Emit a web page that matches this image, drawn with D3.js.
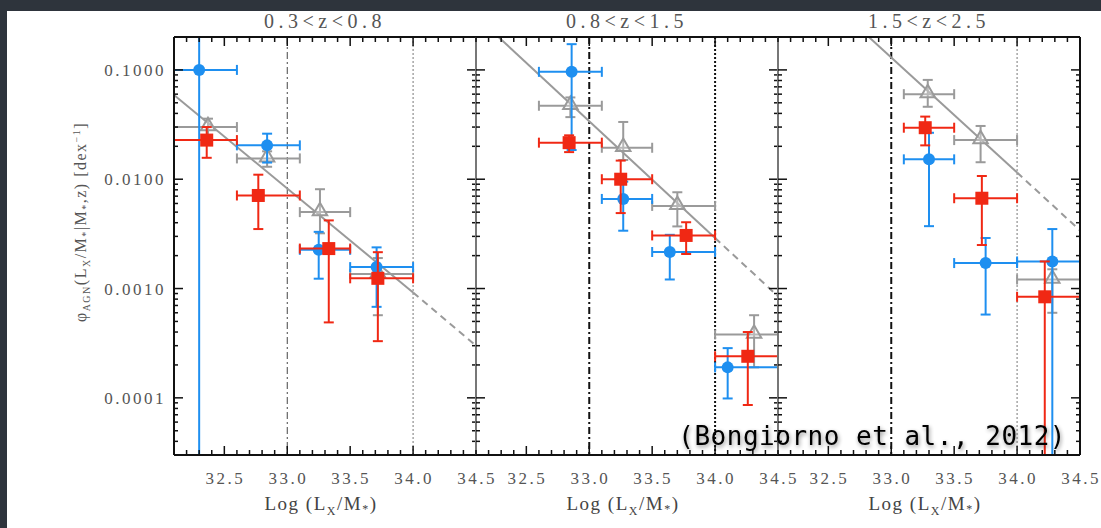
<!DOCTYPE html>
<html>
<head>
<meta charset="utf-8">
<script src="https://cdn.jsdelivr.net/npm/d3@7"></script>
<style>
  body { margin: 0; background: #2e343c; }
  svg { display: block; }
</style>
</head>
<body>
<script>
// redshift bins, one panel each
const panelTitles = ['0.3<z<0.8', '0.8<z<1.5', '1.5<z<2.5'];
const xTicks = [32.5, 33.0, 33.5, 34.0, 34.5];
const yTicks = [0.0001, 0.001, 0.01, 0.1];
const refLines = [33.0, 34.0];

// [panel, x, xlo, xhi, y, ylo, yhi]
const blueCircles = [
  [0, 32.30, 32.0, 32.6, 0.100, 3e-5, 0.5],
  [0, 32.84, 32.6, 33.1, 0.0204, 0.0142, 0.0261],
  [0, 33.25, 33.1, 33.5, 0.00226, 0.00123, 0.0033],
  [0, 33.71, 33.5, 34.0, 0.00157, 0.00068, 0.00238],
  [1, 32.86, 32.6, 33.1, 0.096, 0.0185, 0.172],
  [1, 33.27, 33.1, 33.5, 0.0066, 0.00338, 0.0095],
  [1, 33.64, 33.5, 34.0, 0.00216, 0.00121, 0.0031],
  [1, 34.10, 34.0, 34.5, 0.00019, 0.0000987, 0.000285],
  [2, 33.30, 33.1, 33.5, 0.0152, 0.00372, 0.0266],
  [2, 33.75, 33.5, 34.0, 0.00171, 0.000578, 0.0029],
  [2, 34.28, 34.0, 34.5, 0.00177, 1e-5, 0.0035]
];

const redSquares = [
  [0, 32.36, 32.0, 32.6, 0.0228, 0.0157, 0.030],
  [0, 32.77, 32.6, 33.1, 0.0071, 0.0035, 0.011],
  [0, 33.33, 33.1, 33.5, 0.00232, 0.00049, 0.0042],
  [0, 33.72, 33.5, 34.0, 0.00124, 0.00033, 0.00215],
  [1, 32.84, 32.6, 33.1, 0.0216, 0.0177, 0.0252],
  [1, 33.25, 33.1, 33.5, 0.0100, 0.0049, 0.0148],
  [1, 33.77, 33.5, 34.0, 0.00306, 0.00207, 0.00404],
  [1, 34.26, 34.0, 34.5, 0.00024, 0.000086, 0.0004],
  [2, 33.27, 33.1, 33.5, 0.0296, 0.0204, 0.0374],
  [2, 33.72, 33.5, 34.0, 0.0067, 0.0025, 0.0107],
  [2, 34.22, 34.0, 34.5, 0.00084, 3e-5, 0.00177]
];

const grayTriangles = [
  [0, 32.37, 32.0, 32.6, 0.030, 0.025, 0.0358],
  [0, 32.84, 32.6, 33.1, 0.0155, 0.013, 0.018],
  [0, 33.26, 33.1, 33.5, 0.0050, 0.0032, 0.0081],
  [0, 33.72, 33.5, 34.0, 0.00136, 0.00057, 0.0019],
  [1, 32.85, 32.6, 33.1, 0.047, 0.037, 0.056],
  [1, 33.27, 33.1, 33.5, 0.0194, 0.015, 0.0334],
  [1, 33.70, 33.5, 34.0, 0.0057, 0.0037, 0.0076],
  [1, 34.31, 34.0, 34.5, 0.00038, 0.00019, 0.00057],
  [2, 33.29, 33.1, 33.5, 0.060, 0.046, 0.081],
  [2, 33.71, 33.5, 34.0, 0.0228, 0.0143, 0.0307],
  [2, 34.28, 34.0, 34.5, 0.00121, 0.0006, 0.0015]
];

// fit: solid up to 34.0, dashed beyond
const fitLines = [
  [[32.1, 0.059], [34.0, 0.00092], [34.5, 0.0003]],
  [[32.1, 0.31], [34.0, 0.0029], [34.5, 0.00085]],
  [[32.1, 1.15], [34.0, 0.0115], [34.5, 0.0034]]
];

const W = 1101, H = 528;
const left0 = 174, plotTop = 37, plotBottom = 455, pw = 302;
const blue = '#1e8ff0', red = '#f02814', gray = '#9a9a9a';
const serif = '"Liberation Serif", "Times New Roman", serif';

const svg = d3.select('body').append('svg')
  .attr('width', W).attr('height', H);

// white slide area
svg.append('rect').attr('x', 7).attr('y', 11)
  .attr('width', W - 7).attr('height', H - 11).attr('fill', '#fff');

const defs = svg.append('defs');
const shadow = defs.append('filter').attr('id', 'glow')
  .attr('x', '-10%').attr('y', '-30%').attr('width', '120%').attr('height', '160%');
shadow.append('feGaussianBlur').attr('in', 'SourceAlpha').attr('stdDeviation', 2).attr('result', 'b');
shadow.append('feOffset').attr('in', 'b').attr('dx', 1).attr('dy', 2).attr('result', 'o');
shadow.append('feComponentTransfer').attr('in', 'o').attr('result', 's')
  .append('feFuncA').attr('type', 'linear').attr('slope', 0.45);
const merge = shadow.append('feMerge');
merge.append('feMergeNode').attr('in', 's');
merge.append('feMergeNode').attr('in', 'SourceGraphic');

const y = d3.scaleLog().domain([3e-5, 0.2]).range([plotBottom, plotTop]);
const minorY = [];
[1e-5, 1e-4, 1e-3, 1e-2, 1e-1].forEach(d => {
  for (let k = 1; k <= 9; k++) {
    const v = d * k;
    if (v >= 3e-5 && v <= 0.2) minorY.push(v);
  }
});
const minorX = d3.range(321, 346).map(d => d / 10);

panelTitles.forEach((title, i) => {
  const x0 = left0 + i * pw;
  const x = d3.scaleLinear().domain([32.1, 34.5]).range([x0, x0 + pw]);
  const g = svg.append('g');

  defs.append('clipPath').attr('id', 'clip' + i)
    .append('rect').attr('x', x0).attr('y', plotTop - 1)
    .attr('width', pw).attr('height', plotBottom - plotTop + 2);

  // reference lines at 33.0 (dash-dot) and 34.0 (dotted)
  const heavy = i > 0;
  g.append('line')
    .attr('x1', x(refLines[0])).attr('x2', x(refLines[0]))
    .attr('y1', plotTop).attr('y2', plotBottom)
    .attr('stroke', heavy ? '#111' : '#444')
    .attr('stroke-width', heavy ? 2 : 1)
    .attr('stroke-dasharray', '7,3,2,3');
  g.append('line')
    .attr('x1', x(refLines[1])).attr('x2', x(refLines[1]))
    .attr('y1', plotTop).attr('y2', plotBottom)
    .attr('stroke', i === 1 ? '#111' : '#777')
    .attr('stroke-width', i === 1 ? 2 : 1)
    .attr('stroke-dasharray', '2,2');

  const plot = g.append('g').attr('clip-path', 'url(#clip' + i + ')');

  const fit = fitLines[i];
  const line = d3.line().x(d => x(d[0])).y(d => y(d[1]));
  plot.append('path').attr('d', line(fit.slice(0, 2)))
    .attr('fill', 'none').attr('stroke', gray).attr('stroke-width', 2);
  plot.append('path').attr('d', line(fit.slice(1)))
    .attr('fill', 'none').attr('stroke', gray).attr('stroke-width', 2)
    .attr('stroke-dasharray', '7,5');

  function errorBars(data, color) {
    const rows = data.filter(d => d[0] === i);
    const eg = plot.append('g').attr('stroke', color).attr('stroke-width', 2).attr('fill', 'none');
    rows.forEach(d => {
      const cx = x(d[1]), cy = y(d[4]);
      eg.append('line').attr('x1', x(d[2])).attr('x2', x(d[3])).attr('y1', cy).attr('y2', cy);
      eg.append('line').attr('x1', cx).attr('x2', cx).attr('y1', y(d[5])).attr('y2', y(d[6]));
      [d[2], d[3]].forEach(v => eg.append('line')
        .attr('x1', x(v)).attr('x2', x(v)).attr('y1', cy - 5).attr('y2', cy + 5));
      [d[5], d[6]].forEach(v => eg.append('line')
        .attr('x1', cx - 5).attr('x2', cx + 5).attr('y1', y(v)).attr('y2', y(v)));
    });
    return rows;
  }

  const gRows = errorBars(grayTriangles, gray);
  plot.append('g').selectAll('path').data(gRows).join('path')
    .attr('d', d3.symbol(d3.symbolTriangle, 90))
    .attr('transform', d => `translate(${x(d[1])},${y(d[4]) - 1})`)
    .attr('fill', '#fff').attr('fill-opacity', 0.3)
    .attr('stroke', gray).attr('stroke-width', 2);

  const bRows = errorBars(blueCircles, blue);
  plot.append('g').selectAll('circle').data(bRows).join('circle')
    .attr('cx', d => x(d[1])).attr('cy', d => y(d[4])).attr('r', 6)
    .attr('fill', blue);

  const rRows = errorBars(redSquares, red);
  plot.append('g').selectAll('rect').data(rRows).join('rect')
    .attr('x', d => x(d[1]) - 6.5).attr('y', d => y(d[4]) - 6.5)
    .attr('width', 13).attr('height', 13).attr('fill', red);

  // frame: top/bottom black, inner boundaries grey
  g.append('line').attr('x1', x0).attr('x2', x0 + pw).attr('y1', plotTop).attr('y2', plotTop)
    .attr('stroke', '#111').attr('stroke-width', 2);
  g.append('line').attr('x1', x0).attr('x2', x0 + pw).attr('y1', plotBottom).attr('y2', plotBottom)
    .attr('stroke', '#111').attr('stroke-width', 2);
  g.append('line').attr('x1', x0).attr('x2', x0).attr('y1', plotTop).attr('y2', plotBottom)
    .attr('stroke', i === 0 ? '#111' : '#777').attr('stroke-width', 2);
  if (i === 2) {
    g.append('line').attr('x1', x0 + pw).attr('x2', x0 + pw).attr('y1', plotTop).attr('y2', plotBottom)
      .attr('stroke', '#111').attr('stroke-width', 2);
  }

  // x ticks top and bottom
  const tk = g.append('g').attr('stroke', '#111').attr('stroke-width', 1.5);
  minorX.forEach(v => {
    const major = Math.abs(v * 2 - Math.round(v * 2)) < 1e-6;
    const len = major ? 9 : 5;
    tk.append('line').attr('x1', x(v)).attr('x2', x(v)).attr('y1', plotBottom).attr('y2', plotBottom - len);
    tk.append('line').attr('x1', x(v)).attr('x2', x(v)).attr('y1', plotTop).attr('y2', plotTop + len);
  });
  // y ticks on both sides of the panel
  minorY.forEach(v => {
    const major = yTicks.some(t => Math.abs(t - v) / t < 1e-6);
    const len = major ? 9 : 4;
    tk.append('line').attr('x1', x0).attr('x2', x0 + len).attr('y1', y(v)).attr('y2', y(v));
    tk.append('line').attr('x1', x0 + pw).attr('x2', x0 + pw - len).attr('y1', y(v)).attr('y2', y(v));
  });

  g.append('g').selectAll('text').data(xTicks).join('text')
    .attr('x', d => x(d) + 1).attr('y', 484)
    .attr('text-anchor', 'middle')
    .attr('font-family', serif).attr('font-size', 17)
    .attr('letter-spacing', 2.5).attr('fill', '#555')
    .text(d => d.toFixed(1));

  g.append('text').attr('x', x0 + pw / 2).attr('y', 28)
    .attr('text-anchor', 'middle')
    .attr('font-family', serif).attr('font-size', 20)
    .attr('letter-spacing', 4.5).attr('fill', '#555')
    .text(title);

  const xl = g.append('text').attr('x', x0 + pw / 2 - 4).attr('y', 510)
    .attr('text-anchor', 'middle')
    .attr('font-family', serif).attr('font-size', 19)
    .attr('letter-spacing', 1.5).attr('fill', '#444');
  xl.append('tspan').text('Log (L');
  xl.append('tspan').attr('font-size', 12).attr('dy', 5).text('X');
  xl.append('tspan').attr('dy', -5).text('/M');
  xl.append('tspan').attr('font-size', 12).attr('dy', 3).text('*');
  xl.append('tspan').attr('dy', -3).text(')');
});

// y tick labels
svg.append('g').selectAll('text').data(yTicks).join('text')
  .attr('x', 166).attr('y', d => y(d) + 6)
  .attr('text-anchor', 'end')
  .attr('font-family', serif).attr('font-size', 17)
  .attr('letter-spacing', 2.5).attr('fill', '#555')
  .text(d3.format('.4f'));

// y axis title
const yl = svg.append('text')
  .attr('transform', 'translate(86,222) rotate(-90)')
  .attr('text-anchor', 'middle')
  .attr('font-family', serif).attr('font-size', 16)
  .attr('letter-spacing', 1.5).attr('fill', '#555');
yl.append('tspan').text('φ');
yl.append('tspan').attr('font-size', 10).attr('dy', 4).text('AGN');
yl.append('tspan').attr('dy', -4).text('(L');
yl.append('tspan').attr('font-size', 10).attr('dy', 4).text('X');
yl.append('tspan').attr('dy', -4).text('/M');
yl.append('tspan').attr('font-size', 10).attr('dy', 3).text('*');
yl.append('tspan').attr('dy', -3).text('|M');
yl.append('tspan').attr('font-size', 10).attr('dy', 3).text('*');
yl.append('tspan').attr('dy', -3).text(',z)  [dex');
yl.append('tspan').attr('font-size', 10).attr('dy', -6).text('−1');
yl.append('tspan').attr('dy', 6).text(']');

// citation
svg.append('text').attr('x', 1066).attr('y', 445)
  .attr('text-anchor', 'end')
  .attr('font-family', '"DejaVu Sans Mono", monospace').attr('font-size', 26)
  .attr('letter-spacing', 0.5).attr('fill', '#000')
  .attr('filter', 'url(#glow)')
  .text('(Bongiorno et al., 2012)');
</script>
</body>
</html>
